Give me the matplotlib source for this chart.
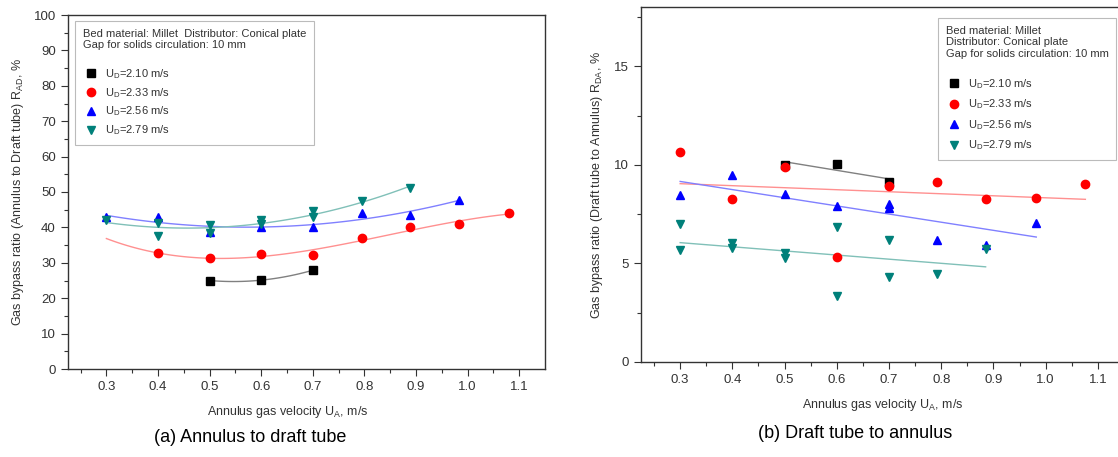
import numpy as np
from matplotlib import pyplot as plt

plt.rcParams["font.family"] = ["Liberation Sans", "DejaVu Sans"]
plt.rcParams["mathtext.default"] = "regular"

# Series labels and colours
labels = ["U$_D$=2.10 m/s", "U$_D$=2.33 m/s", "U$_D$=2.56 m/s", "U$_D$=2.79 m/s"]
markers = ["s", "o", "^", "v"]
colors = ["black", "red", "blue", "#00807a"]
fitcolors = ["#808080", "#ff9090", "#8080ff", "#80c0b8"]

# (a) Annulus to draft tube, R_AD %
xa = [
    [0.5, 0.6, 0.7],
    [0.4, 0.5, 0.6, 0.7, 0.795, 0.889, 0.983, 1.08],
    [0.3, 0.4, 0.5, 0.6, 0.7, 0.795, 0.889, 0.983],
    [0.3, 0.4, 0.4, 0.5, 0.5, 0.6, 0.6, 0.7, 0.7, 0.795, 0.889],
]
ya = [
    [25.0, 25.1, 27.9],
    [32.7, 31.3, 32.5, 32.2, 36.9, 40.0, 40.9, 44.0],
    [43.0, 43.0, 38.7, 40.2, 40.2, 44.2, 43.5, 47.7],
    [42.2, 41.3, 37.7, 40.7, 38.3, 42.2, 41.0, 44.5, 42.8, 47.5, 51.2],
]
fit_a = [(0.5, 0.7), (0.3, 1.075), (0.3, 0.983), (0.3, 0.889)]
deg_a = [2, 3, 2, 2]

# (b) Draft tube to annulus, R_DA %
xb = [
    [0.5, 0.6, 0.7],
    [0.3, 0.4, 0.5, 0.6, 0.7, 0.791, 0.885, 0.982, 1.076],
    [0.3, 0.4, 0.5, 0.6, 0.7, 0.7, 0.791, 0.885, 0.982],
    [0.3, 0.3, 0.4, 0.4, 0.5, 0.5, 0.6, 0.6, 0.7, 0.7, 0.791, 0.885],
]
yb = [
    [10.0, 10.05, 9.13],
    [10.68, 8.25, 9.88, 5.32, 8.93, 9.15, 8.25, 8.32, 9.05],
    [8.46, 9.49, 8.51, 7.9, 8.0, 7.83, 6.18, 5.96, 7.07],
    [6.99, 5.70, 6.04, 5.80, 5.55, 5.28, 6.85, 3.33, 6.18, 4.31, 4.45, 5.75],
]
fit_b = [(0.5, 0.7), (0.3, 1.076), (0.3, 0.982), (0.3, 0.885)]
deg_b = [1, 1, 1, 1]

header_a = "Bed material: Millet  Distributor: Conical plate\nGap for solids circulation: 10 mm\n"
header_b = "Bed material: Millet\nDistributor: Conical plate\nGap for solids circulation: 10 mm\n"

fig = plt.figure(figsize=(11.18, 4.57), dpi=100)
W, H = 1118, 457
grey = "#333333"


def box(l, t, r, b):
    return [l / W, 1 - b / H, (r - l) / W, (b - t) / H]


def panel(ax, xs, ys, fits, degs, header, ylim, ymaj, ymin, ylabel, legpos, lspace):
    for i in range(4):
        x = np.array(xs[i])
        y = np.array(ys[i])
        c = np.polyfit(x, y, degs[i])
        xf = np.linspace(fits[i][0], fits[i][1], 100)
        ax.plot(xf, np.polyval(c, xf), color=fitcolors[i], lw=1, zorder=1)
    for i in range(4):
        ax.plot(xs[i], ys[i], ls="none", marker=markers[i], color=colors[i],
                ms=6, label=labels[i], zorder=3)
    ax.set_xlim(0.225, 1.15)
    ax.set_ylim(*ylim)
    ax.set_xticks(np.arange(0.3, 1.15, 0.1))
    ax.set_xticks(np.arange(0.25, 1.15, 0.1), minor=True)
    ax.set_yticks(ymaj)
    ax.set_yticks(ymin, minor=True)
    ax.xaxis.set_major_formatter(plt.FormatStrFormatter("%.1f"))
    ax.tick_params(which="major", length=5, width=0.8, labelsize=9.5, colors=grey,
                   labelcolor=grey)
    ax.tick_params(which="minor", length=3, width=0.8, colors=grey)
    for s in ax.spines.values():
        s.set_color(grey)
        s.set_linewidth(1)
    ax.set_xlabel("Annulus gas velocity U$_A$, m/s", fontsize=9, color=grey)
    ax.set_ylabel(ylabel, fontsize=9, color=grey)
    leg = ax.legend(title=header, loc="upper left", bbox_to_anchor=legpos,
                    borderaxespad=0, fontsize=8, title_fontsize=8, alignment="left",
                    frameon=True, fancybox=False, edgecolor="#aaaaaa", handletextpad=0.5,
                    labelspacing=lspace, borderpad=0.7, handlelength=1.5)
    leg.get_frame().set_linewidth(0.8)
    for t in leg.get_texts():
        t.set_color(grey)
    leg.get_title().set_color(grey)


ax1 = fig.add_axes(box(67.7, 15, 545, 369))
panel(ax1, xa, ya, fit_a, deg_a, header_a, (0, 100), np.arange(0, 101, 10),
      np.arange(5, 100, 10), "Gas bypass ratio (Annulus to Draft tube) R$_{AD}$, %",
      (0.015, 0.983), 0.45)
ax1.xaxis.set_label_coords(0.46, -0.1)
ax1.yaxis.set_label_coords(-0.088, 0.5)

ax2 = fig.add_axes(box(641, 7.3, 1124, 362))
panel(ax2, xb, yb, fit_b, deg_b, header_b, (0, 18), [0, 5, 10, 15],
      [2.5, 7.5, 12.5, 17.5], "Gas bypass ratio (Draft tube to Annulus) R$_{DA}$, %",
      (0.615, 0.97), 0.6)
ax2.xaxis.set_label_coords(0.5, -0.1)
ax2.yaxis.set_label_coords(-0.075, 0.5)

fig.text(250 / W, 1 - 437 / H, "(a) Annulus to draft tube", fontsize=13, ha="center", va="center")
fig.text(855 / W, 1 - 433 / H, "(b) Draft tube to annulus", fontsize=13, ha="center", va="center")

fig.savefig("out.png", dpi=100)
